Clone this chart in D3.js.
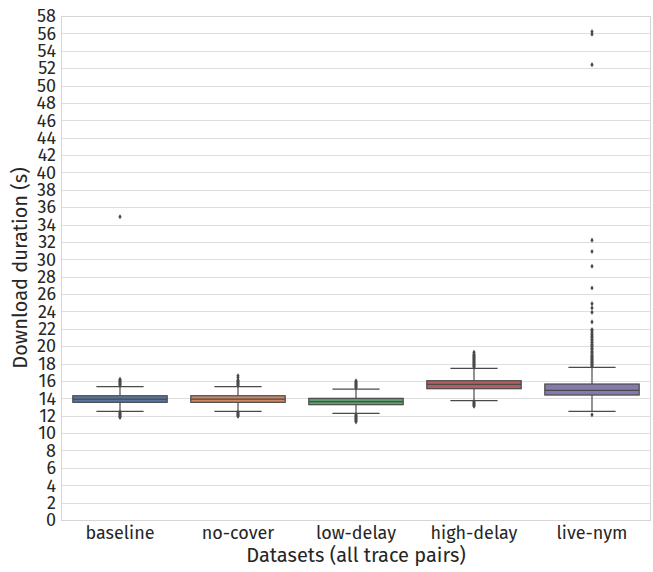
<!DOCTYPE html>
<html>
<head>
<meta charset="utf-8">
<script src="https://cdn.jsdelivr.net/npm/d3@7"></script>
<style>
  html, body { margin: 0; padding: 0; background: #fff; }
  svg { display: block; }
  text { font-family: "Fira Sans", Roboto, "Open Sans", sans-serif; fill: #262626; }
</style>
</head>
<body>
<svg id="chart" width="653" height="572"></svg>
<script>
// Datasets shown along the x axis
const categories = ["baseline", "no-cover", "low-delay", "high-delay", "live-nym"];

// Box statistics per dataset (seconds)
const whiskerLow  = [12.51, 12.50, 12.27, 13.73, 12.51];
const q1          = [13.54, 13.54, 13.27, 15.11, 14.38];
const medians     = [13.92, 13.90, 13.62, 15.60, 14.92];
const q3          = [14.30, 14.30, 14.00, 16.03, 15.65];
const whiskerHigh = [15.34, 15.34, 15.07, 17.45, 17.57];

// Outlying download durations per dataset (seconds)
const outliersBaseline = [34.9, 16.2, 16.1, 16.0, 15.9, 15.8, 15.7, 15.6, 15.5,
  12.4, 12.3, 12.2, 12.1, 12.0, 11.9, 11.8];
const outliersNoCover = [16.6, 16.4, 16.1, 16.0, 15.9, 15.8, 15.7, 15.6, 15.5,
  12.4, 12.3, 12.2, 12.1, 12.0, 11.95];
const outliersLowDelay = [16.0, 15.9, 15.8, 15.7, 15.6, 15.5, 15.4, 15.3, 15.2,
  12.1, 12.0, 11.9, 11.8, 11.7, 11.6, 11.5, 11.4, 11.3];
const outliersHighDelay = [19.3, 19.1, 19.0, 18.9, 18.8, 18.7, 18.6, 18.5, 18.4,
  18.3, 18.2, 18.1, 18.0, 17.9, 17.8, 17.7, 17.6,
  13.6, 13.5, 13.4, 13.3, 13.2, 13.1];
const outliersLiveNym = [56.2, 55.9, 52.4, 32.2, 30.9, 29.2, 26.7, 24.9, 24.4,
  23.9, 22.8, 21.9, 21.8, 21.6, 21.4, 21.3, 21.1, 21.0, 20.8, 20.7, 20.5, 20.4,
  20.2, 20.1, 20.0, 19.8, 19.7, 19.6, 19.4, 19.3, 19.2, 19.0, 18.9, 18.8, 18.7,
  18.6, 18.5, 18.4, 18.3, 18.2, 18.1, 18.0, 17.9, 17.8, 17.7, 12.1];
const outliers = [outliersBaseline, outliersNoCover, outliersLowDelay,
  outliersHighDelay, outliersLiveNym];

// Y axis ticks (every 2 s)
const yTicks = [0, 2, 4, 6, 8, 10, 12, 14, 16, 18, 20, 22, 24, 26, 28, 30, 32, 34,
  36, 38, 40, 42, 44, 46, 48, 50, 52, 54, 56, 58];

const colors = ["#5975a4", "#cc8963", "#5f9e6e", "#b55d60", "#857aab"];
const lineColor = "#4a4a4a";

const svg = d3.select("#chart");
const margin = { left: 61, right: 2, top: 16, bottom: 52 };
const width = 653, height = 572;

const x = d3.scaleBand()
  .domain(categories)
  .range([margin.left, width - margin.right])
  .paddingInner(0.2)
  .paddingOuter(0.1);

const y = d3.scaleLinear()
  .domain([0, 58])
  .range([height - margin.bottom, margin.top]);

// Horizontal grid lines
svg.append("g")
  .selectAll("line")
  .data(yTicks)
  .join("line")
  .attr("x1", margin.left).attr("x2", width - margin.right)
  .attr("y1", d => Math.round(y(d)) + 0.5).attr("y2", d => Math.round(y(d)) + 0.5)
  .attr("stroke", "#dedede")
  .attr("stroke-width", 1);

// Plot frame
svg.append("rect")
  .attr("x", margin.left + 0.5)
  .attr("y", margin.top + 0.5)
  .attr("width", width - margin.right - margin.left - 1)
  .attr("height", height - margin.bottom - margin.top)
  .attr("fill", "none")
  .attr("stroke", "#d6d6d6")
  .attr("stroke-width", 1);

// Y axis
const yAxis = svg.append("g")
  .attr("transform", `translate(${margin.left},0)`)
  .call(d3.axisLeft(y).tickValues(yTicks).tickSize(0).tickPadding(5));
yAxis.select(".domain").remove();
yAxis.selectAll("text")
  .style("font-size", "18px")
  .attr("fill", "#262626");

// X axis
const xAxis = svg.append("g")
  .attr("transform", `translate(0,${height - margin.bottom})`)
  .call(d3.axisBottom(x).tickSize(0).tickPadding(6));
xAxis.select(".domain").remove();
xAxis.selectAll("text")
  .style("font-size", "18px")
  .attr("fill", "#262626");

// Axis titles
svg.append("text")
  .attr("x", (margin.left + width - margin.right) / 2)
  .attr("y", 562)
  .attr("text-anchor", "middle")
  .style("font-size", "20px")
  .text("Datasets (all trace pairs)");

svg.append("text")
  .attr("transform", `translate(27,${(margin.top + height - margin.bottom) / 2}) rotate(-90)`)
  .attr("text-anchor", "middle")
  .style("font-size", "20px")
  .text("Download duration (s)");

// Boxes
const boxes = svg.append("g")
  .selectAll("g")
  .data(categories.map((c, i) => ({ c, i })))
  .join("g");

boxes.each(function ({ c, i }) {
  const g = d3.select(this);
  const cx = x(c) + x.bandwidth() / 2;
  const bw = x.bandwidth();
  const capW = bw / 2;

  // Whiskers
  g.append("line")
    .attr("x1", cx).attr("x2", cx)
    .attr("y1", y(whiskerHigh[i])).attr("y2", y(q3[i]))
    .attr("stroke", lineColor).attr("stroke-width", 1.2);
  g.append("line")
    .attr("x1", cx).attr("x2", cx)
    .attr("y1", y(q1[i])).attr("y2", y(whiskerLow[i]))
    .attr("stroke", lineColor).attr("stroke-width", 1.2);
  [whiskerHigh[i], whiskerLow[i]].forEach(v => {
    g.append("line")
      .attr("x1", cx - capW / 2).attr("x2", cx + capW / 2)
      .attr("y1", y(v)).attr("y2", y(v))
      .attr("stroke", lineColor).attr("stroke-width", 1.2);
  });

  // Box body
  g.append("rect")
    .attr("x", x(c))
    .attr("y", y(q3[i]))
    .attr("width", bw)
    .attr("height", y(q1[i]) - y(q3[i]))
    .attr("fill", colors[i])
    .attr("stroke", lineColor)
    .attr("stroke-width", 1.2);

  // Median
  g.append("line")
    .attr("x1", x(c)).attr("x2", x(c) + bw)
    .attr("y1", y(medians[i])).attr("y2", y(medians[i]))
    .attr("stroke", lineColor).attr("stroke-width", 1.2);

  // Outliers as thin diamonds
  g.selectAll("path.flier")
    .data(outliers[i])
    .join("path")
    .attr("class", "flier")
    .attr("d", d => {
      const py = y(d);
      return `M${cx},${py - 2.6}L${cx + 1.6},${py}L${cx},${py + 2.6}L${cx - 1.6},${py}Z`;
    })
    .attr("fill", lineColor);
});
</script>
</body>
</html>
